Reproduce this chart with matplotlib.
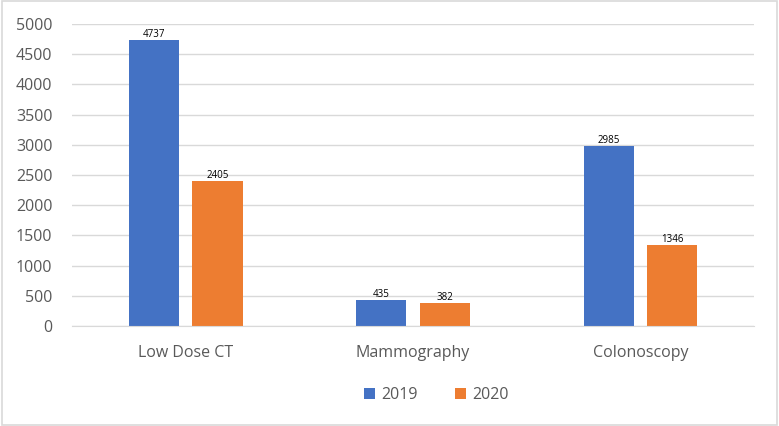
import numpy as np
import matplotlib.pyplot as plt
from matplotlib.patches import Rectangle

plt.rcParams['font.family'] = ['Open Sans', 'DejaVu Sans']

categories = ['Low Dose CT', 'Mammography', 'Colonoscopy']
years = ['2019', '2020']
values_2019 = [4737, 435, 2985]
values_2020 = [2405, 382, 1346]
colors = ['#4472C4', '#ED7D31']

fig = plt.figure(figsize=(7.79, 4.26), dpi=100)
ax = fig.add_axes([0.0924, 0.2347, 0.8756, 0.709])

x = np.arange(len(categories))
w = 0.22
off = 0.14
b1 = ax.bar(x - off, values_2019, w, color=colors[0], label=years[0], zorder=3)
b2 = ax.bar(x + off, values_2020, w, color=colors[1], label=years[1], zorder=3)

for bars in (b1, b2):
    for rect in bars:
        h = rect.get_height()
        ax.text(rect.get_x() + rect.get_width() / 2, h - 5, str(int(h)),
                ha='center', va='bottom', fontsize=7, color='black', zorder=5)

ax.set_xlim(-0.5, 2.5)
ax.set_ylim(0, 5000)
ax.set_yticks(range(0, 5001, 500))
ax.set_xticks(x)
ax.set_xticklabels(categories)
ax.tick_params(axis='both', length=0, labelsize=11.5, colors='#595959')
ax.tick_params(axis='y', pad=14)
ax.tick_params(axis='x', pad=14)
ax.grid(axis='y', color='#D9D9D9', linewidth=1, zorder=0)
for s in ['top', 'right', 'left']:
    ax.spines[s].set_visible(False)
ax.spines['bottom'].set_color('#D9D9D9')
ax.spines['bottom'].set_zorder(4)

fig.legend(loc='center', bbox_to_anchor=(0.56, 0.073), ncol=2, frameon=False,
           fontsize=11.5, labelcolor='#595959', handlelength=0.7, handleheight=0.7,
           columnspacing=2.3, handletextpad=0.4)

fig.patches.append(Rectangle((0.002, 0.003), 0.996, 0.994, transform=fig.transFigure,
                             fill=False, edgecolor='#D9D9D9', linewidth=1.2))

fig.savefig('out.png', dpi=100)
